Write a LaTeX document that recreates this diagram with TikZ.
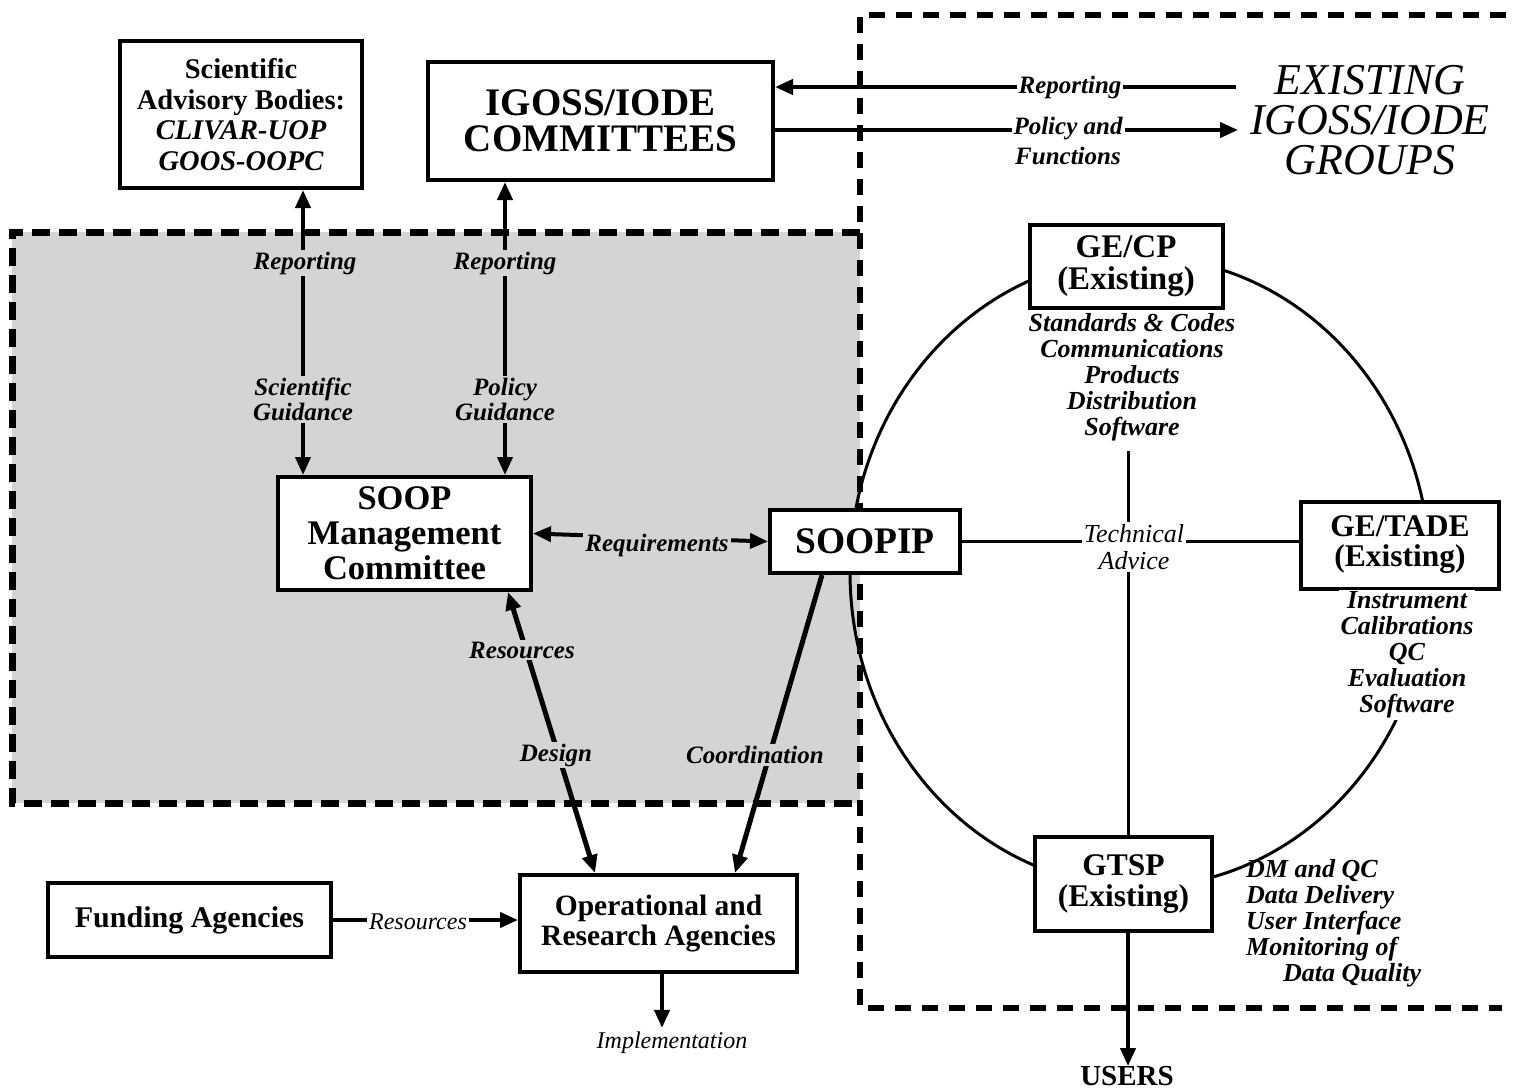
\documentclass[tikz,border=0pt]{standalone}
\usepackage{fontspec}
\setmainfont{Liberation Serif}
\usetikzlibrary{arrows.meta}
\newcommand{\myfs}[2]{\fontsize{#1}{#2}\selectfont}
\definecolor{stip}{gray}{0.83}
\begin{document}
\begin{tikzpicture}[x=1pt,y=-1pt,
  >={Triangle[length=18pt,width=15pt]},
  box/.style={draw, line width=4pt, fill=white, inner sep=0pt, align=center},
  dshA/.style={line width=7pt, dash pattern=on 18pt off 9pt},
  dshB/.style={line width=5.5pt, dash pattern=on 16pt off 11pt},
  conn/.style={line width=4pt},
  thin/.style={line width=3pt},
  slbl/.style={font=\bfseries\itshape\myfs{25}{25}, inner sep=2pt, fill=stip, align=center},
  wlbl/.style={font=\itshape\myfs{24}{26}, inner sep=2pt, fill=white, align=center},
  lst/.style={font=\bfseries\itshape\myfs{26}{26}, inner sep=0pt, align=center}]
\useasboundingbox (0,0) rectangle (1527,1092);
% regions
\fill[stip] (12,232) rectangle (860,803);
\draw[dshA] (860,232) -- (12,232) -- (12,803) -- (860,803);
\draw[dshB] (1506,15) -- (860,15) -- (860,1008) -- (1502,1008);
% ellipse
\draw[thin] (1140,572) ellipse [x radius=290, y radius=315];
% helper coordinates
\coordinate (x303) at (303,0);
\coordinate (x505) at (505,0);
\coordinate (x508) at (508,0);
\coordinate (x595) at (595,0);
\coordinate (x822) at (822,0);
\coordinate (x735) at (735,0);
\coordinate (x662) at (662,0);
\coordinate (vx) at (1128,0);
\coordinate (repR) at (1236,87);
\coordinate (polR) at (1238,130);
% boxes
\node[box, minimum width=242pt, minimum height=147pt, font=\bfseries\myfs{28.5}{30.5}] (sci) at (241,114.5)
  {Scientific\\Advisory Bodies:\\\itshape CLIVAR-UOP\\\itshape GOOS-OOPC};
\node[box, minimum width=345pt, minimum height=118pt, font=\bfseries\myfs{39}{36}] (igoss) at (600.5,121)
  {IGOSS/IODE\\COMMITTEES};
\node[box, minimum width=253pt, minimum height=113pt, font=\bfseries\myfs{34.5}{35}] (soop) at (404.5,533.5)
  {SOOP\\Management\\Committee};
\node[box, minimum width=190pt, minimum height=63pt, font=\bfseries\myfs{37.5}{38}] (soopip) at (865,541.5) {SOOPIP};
\node[box, minimum width=277pt, minimum height=97pt, font=\bfseries\myfs{29.5}{30}] (op) at (658.5,923.5)
  {Operational and\\Research Agencies};
\node[box, minimum width=283pt, minimum height=74pt, font=\bfseries\myfs{30}{30}] (fund) at (189.5,920) {Funding Agencies};
\node[box, minimum width=193pt, minimum height=83pt, font=\bfseries\myfs{33}{32}] (gecp) at (1126,266.5) {GE/CP\\(Existing)};
\node[box, minimum width=198pt, minimum height=87pt, font=\bfseries\myfs{31.5}{30}] (getade) at (1400,545) {GE/TADE\\(Existing)};
\node[box, minimum width=177pt, minimum height=94pt, font=\bfseries\myfs{31.5}{31}] (gtsp) at (1123.5,884) {GTSP\\(Existing)};
% free text
\node[font=\itshape\myfs{44}{40}, align=center] (exist) at (1370,120) {EXISTING\\IGOSS/IODE\\GROUPS};
\node[font=\bfseries\myfs{29}{29}, inner sep=0pt] (users) at (1127,1076) {USERS};
\node[font=\itshape\myfs{24}{26}, inner sep=0pt] (impl) at (672,1043) {Implementation};
\node[lst] (gecplist) at (1132,377.5) {Standards \& Codes\\Communications\\Products\\Distribution\\Software};
\node[lst, fill=white, inner sep=2pt] (getadelist) at (1407,655) {Instrument\\Calibrations\\QC\\Evaluation\\Software};
\node[lst, align=left, anchor=north west] (gtsplist) at (1246,859) {DM and QC\\Data Delivery\\User Interface\\Monitoring of\\\hspace*{37pt}Data Quality};
% top right connectors
\draw[conn,->] (repR) -- (repR -| igoss.east);
\draw[conn,->] (polR -| igoss.east) -- (polR);
\node[wlbl, font=\bfseries\itshape\myfs{25}{30}] (replbl) at (1070,87) {Reporting};
\node[wlbl, font=\bfseries\itshape\myfs{25}{30}] (pollbl) at (1068,141) {Policy and\\Functions};
% vertical double arrows
\draw[conn,<->] (sci.south -| x303) -- (soop.north -| x303);
\draw[conn,<->] (igoss.south -| x505) -- (soop.north -| x505);
\node[slbl] (rep1) at (305,263) {Reporting};
\node[slbl] (rep2) at (505,263) {Reporting};
\node[slbl] (sg) at (303,399.5) {Scientific\\Guidance};
\node[slbl] (pg) at (505,399.5) {Policy\\Guidance};
% requirements
\draw[conn,<->] (soop.east) -- (soopip.west);
\node[slbl] (req) at (657,545) {Requirements};
% resources / design, coordination
\draw[line width=5pt,<->] (soop.south -| x508) -- (op.north -| x595);
\draw[line width=5pt,->] (soopip.south -| x822) -- (op.north -| x735);
\node[slbl] (res) at (522,650) {Resources};
\node[slbl] (des) at (556,755) {Design};
\node[slbl] (coo) at (755,755) {Coordination};
% bottom
\draw[conn,->] (fund.east) -- (fund.east -| op.west);
\node[wlbl] (reslbl) at (418,922) {Resources};
\draw[conn,->] (op.south -| x662) -- ([yshift=4pt]impl.north -| x662);
% ellipse internals
\draw[thin] (soopip.east) -- (soopip.east -| getade.west);
\draw[thin] ([yshift=-10pt]gecplist.south -| vx) -- (gtsp.north -| vx);
\node[wlbl, font=\itshape\myfs{26}{27}] (tech) at (1134,547) {Technical\\Advice};
\draw[conn,->] (gtsp.south -| vx) -- (users.north -| vx);
\end{tikzpicture}
\end{document}
